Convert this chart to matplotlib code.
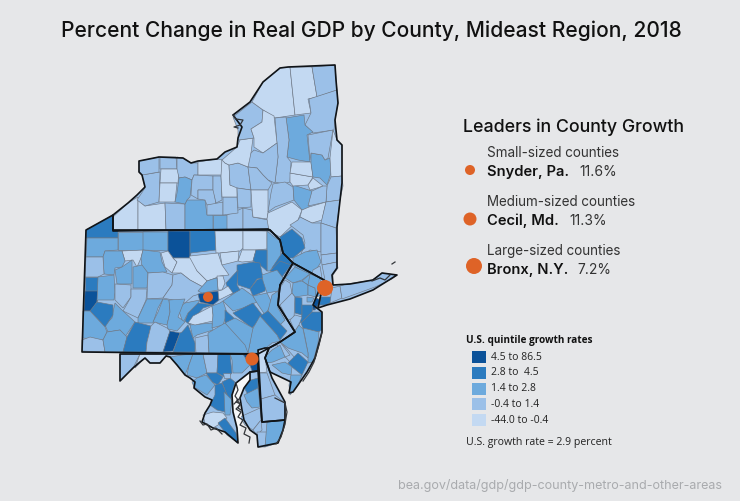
import matplotlib
matplotlib.use('Agg')
from matplotlib import pyplot as plt
from matplotlib.patches import Polygon, Rectangle, Circle

BACKGROUND = '#e6e7e9'
# quintile colours, 0 is the top class
QUINTILE_COLORS = ['#0b5299', '#2b7bbf', '#6daadd', '#9bc0e8', '#c3d9f2']
QUINTILE_LABELS = ['4.5 to 86.5', '2.8 to  4.5', '1.4 to 2.8', '-0.4 to 1.4', '-44.0 to -0.4']
MARKER_COLOR = '#de6327'

LEADER_GROUPS = ['Small-sized counties', 'Medium-sized counties', 'Large-sized counties']
LEADER_NAMES = ['Snyder, Pa.', 'Cecil, Md.', 'Bronx, N.Y.']
LEADER_VALUES = ['11.6%', '11.3%', '7.2%']

# county outlines, in picture pixels: (name, quintile, outline)
NY_COUNTIES = [
    ('Chautauqua', 4, [(113,217),(128,203),(138,197),(138,230),(113,230)]),
    ('Cattaraugus', 4, [(138,200),(145,206),(165,203),(166,230),(138,230)]),
    ('Allegany', 3, [(165,203),(185,204),(185,230),(166,230)]),
    ('Steuben', 2, [(185,204),(187,200),(205,200),(207,215),(213,215),(213,230),(185,230)]),
    ('Chemung', 2, [(213,215),(227,215),(227,230),(213,230)]),
    ('Tioga', 3, [(227,215),(243,208),(243,230),(227,230)]),
    ('Broome', 3, [(243,208),(252,210),(253,217),(268,220),(269,231),(243,230)]),
    ('Erie', 3, [(137,200),(145,188),(142,175),(160,172),(159,202),(145,206)]),
    ('Niagara', 3, [(139,161),(159,157),(159,172),(142,175),(139,172)]),
    ('Orleans', 3, [(160,157),(176,157),(177,169),(160,169)]),
    ('Genesee', 4, [(161,169),(179,169),(178,183),(160,183)]),
    ('Wyoming', 4, [(160,183),(177,183),(175,202),(159,202)]),
    ('Monroe', 3, [(177,157),(183,158),(191,163),(198,163),(198,175),(194,175),(192,180),(185,177),(179,178),(177,169)]),
    ('Livingston', 2, [(179,178),(185,177),(192,180),(190,197),(187,200),(185,204),(175,202),(177,193)]),
    ('Wayne', 4, [(198,162),(217,159),(222,160),(222,175),(198,175)]),
    ('Ontario', 3, [(194,175),(213,176),(213,190),(198,190),(198,199),(191,195),(192,180)]),
    ('Yates', 3, [(198,190),(214,190),(216,205),(207,205),(205,200),(198,199)]),
    ('Seneca', 3, [(213,176),(221,176),(222,200),(216,203),(213,190)]),
    ('Schuyler', 3, [(207,205),(223,202),(223,215),(207,215)]),
    ('Tompkins', 3, [(223,197),(237,197),(238,213),(223,215)]),
    ('Cayuga', 4, [(222,159),(225,163),(229,165),(230,185),(237,187),(237,197),(222,197),(221,176)]),
    ('Onondaga', 3, [(229,165),(238,163),(248,167),(251,190),(237,188),(230,185)]),
    ('Oswego', 4, [(222,160),(237,147),(240,140),(253,138),(251,153),(251,165),(248,167),(238,163),(229,165),(225,163)]),
    ('Jefferson', 3, [(233,117),(252,102),(263,110),(262,122),(251,129),(254,138),(238,140),(238,130)]),
    ('St. Lawrence', 4, [(252,102),(263,82),(280,68),(290,67),(295,115),(275,118),(263,110)]),
    ('Franklin', 4, [(290,67),(312,67),(317,97),(308,99),(311,113),(295,115)]),
    ('Clinton', 3, [(312,67),(335,65),(336,77),(337,90),(317,97)]),
    ('Essex', 3, [(309,99),(337,90),(338,103),(335,120),(334,130),(313,133),(305,125),(311,113)]),
    ('Hamilton', 2, [(286,118),(304,115),(305,125),(313,132),(307,135),(310,162),(298,160),(287,157),(289,140)]),
    ('Herkimer', 3, [(275,118),(286,117),(289,140),(287,157),(291,162),(290,182),(283,184),(275,182),(278,157)]),
    ('Lewis', 4, [(263,110),(274,116),(277,143),(263,153),(254,147),(254,138),(251,129),(262,122)]),
    ('Oneida', 3, [(254,150),(263,153),(277,143),(278,157),(275,183),(268,180),(263,175),(257,168),(248,167),(251,153)]),
    ('Madison', 3, [(248,167),(257,168),(263,175),(268,180),(272,183),(268,190),(251,190)]),
    ('Cortland', 3, [(237,188),(251,190),(251,207),(238,208)]),
    ('Chenango', 4, [(251,190),(268,190),(268,213),(267,219),(253,217),(252,207)]),
    ('Otsego', 3, [(273,184),(285,182),(293,187),(294,200),(275,207),(268,212),(271,193)]),
    ('Delaware', 4, [(268,213),(292,202),(302,210),(298,220),(280,237),(269,231),(267,219)]),
    ('Schoharie', 2, [(293,185),(312,191),(309,208),(302,210),(294,200)]),
    ('Montgomery', 4, [(290,173),(313,177),(308,185),(293,186),(290,182)]),
    ('Fulton', 4, [(292,162),(311,162),(313,177),(290,173)]),
    ('Saratoga', 2, [(311,153),(322,155),(325,160),(330,158),(331,173),(327,185),(320,178),(313,177),(311,163)]),
    ('Warren', 3, [(308,135),(333,130),(328,158),(325,160),(322,155),(311,153),(310,160)]),
    ('Washington', 4, [(333,130),(337,140),(342,145),(342,176),(331,177),(330,158)]),
    ('Rensselaer', 3, [(331,177),(342,176),(343,186),(340,200),(326,202),(327,186)]),
    ('Schenectady', 4, [(308,185),(313,178),(323,186),(317,188),(310,190)]),
    ('Albany', 3, [(312,191),(323,186),(327,186),(326,202),(308,206)]),
    ('Greene', 4, [(309,207),(326,202),(322,220),(312,223),(300,217),(302,210)]),
    ('Columbia', 3, [(326,202),(340,200),(337,223),(336,228),(321,223)]),
    ('Ulster', 3, [(298,220),(300,217),(312,223),(321,223),(321,252),(310,250),(300,257),(305,243),(303,235),(290,225)]),
    ('Sullivan', 1, [(280,237),(292,229),(302,238),(305,248),(293,258),(288,258),(283,253),(280,242)]),
    ('Dutchess', 3, [(321,223),(336,228),(337,253),(321,255)]),
    ('Orange', 2, [(293,258),(305,252),(317,250),(321,262),(311,278),(293,265)]),
    ('Putnam', 3, [(321,255),(337,253),(337,262),(322,265)]),
    ('Westchester', 3, [(322,265),(337,262),(338,268),(333,275),(333,285),(325,280)]),
    ('Rockland', 3, [(313,270),(320,266),(322,278),(311,278)]),
    ('Kings', 1, [(320,297),(332,297),(330,303),(325,305),(318,305)]),
    ('Richmond', 0, [(312,310),(317,300),(320,303),(315,310)]),
    ('Nassau', 3, [(332,288),(340,286),(342,298),(330,303)]),
    ('Suffolk', 3, [(340,286),(347,284),(372,280),(382,273),(397,275),(392,279),(375,287),(342,299)]),
]

PA_COUNTIES = [
    ('Erie', 1, [(86,230),(113,215),(113,230),(118,230),(118,238),(86,238)]),
    ('Crawford', 2, [(87,238),(118,238),(118,250),(105,251),(103,257),(86,257)]),
    ('Warren', 2, [(118,232),(143,232),(143,250),(118,250)]),
    ('McKean', 2, [(143,232),(168,232),(168,251),(143,250)]),
    ('Potter', 0, [(168,231),(190,231),(190,258),(173,258),(168,251)]),
    ('Tioga', 1, [(190,230),(215,230),(216,250),(191,253),(190,258)]),
    ('Bradford', 4, [(215,231),(243,231),(243,248),(240,251),(220,253),(216,253)]),
    ('Susquehanna', 4, [(243,231),(267,231),(267,249),(255,250),(243,250)]),
    ('Wayne', 2, [(267,231),(273,236),(280,241),(281,256),(270,271),(267,271),(267,250)]),
    ('Pike', 1, [(280,238),(283,253),(293,263),(283,270),(272,268),(282,253)]),
    ('Wyoming', 4, [(238,261),(242,250),(256,250),(253,261),(242,262)]),
    ('Lackawanna', 1, [(256,250),(267,250),(267,271),(260,265),(253,261)]),
    ('Luzerne', 1, [(237,265),(253,262),(260,263),(263,278),(257,279),(250,289),(238,285),(237,276)]),
    ('Monroe', 1, [(270,271),(280,261),(291,265),(282,277),(276,273)]),
    ('Carbon', 1, [(250,289),(257,280),(262,278),(266,285),(265,291),(253,296)]),
    ('Schuylkill', 2, [(223,301),(242,288),(253,296),(257,302),(243,308),(233,311)]),
    ('Columbia', 1, [(226,283),(238,270),(237,285),(240,290),(230,295)]),
    ('Sullivan', 4, [(220,253),(239,251),(238,261),(222,265)]),
    ('Lycoming', 4, [(190,256),(218,253),(222,265),(229,275),(220,276),(213,279),(207,281),(197,271),(188,260)]),
    ('Clinton', 4, [(161,253),(168,251),(173,258),(177,262),(172,273),(165,267)]),
    ('Clinton East', 4, [(173,258),(190,258),(197,271),(207,281),(203,287),(190,280),(181,273),(172,273),(177,262)]),
    ('Forest', 4, [(122,251),(143,250),(141,258),(137,267),(133,260),(125,261)]),
    ('Elk', 2, [(143,250),(160,252),(162,262),(167,272),(148,273),(142,267),(141,258)]),
    ('Venango', 2, [(105,251),(122,251),(125,261),(122,267),(115,268),(114,275),(104,274),(103,257)]),
    ('Mercer', 3, [(86,257),(103,257),(104,274),(98,277),(85,277)]),
    ('Lawrence', 1, [(85,277),(98,277),(98,291),(85,291)]),
    ('Beaver', 0, [(85,291),(98,291),(97,302),(91,311),(84,311)]),
    ('Butler', 2, [(98,277),(114,275),(115,292),(114,300),(98,300),(97,302)]),
    ('Clarion', 2, [(115,270),(122,267),(132,260),(132,284),(117,284)]),
    ('Jefferson', 2, [(133,267),(142,265),(148,273),(147,288),(133,288)]),
    ('Armstrong', 3, [(115,284),(131,285),(131,297),(123,308),(115,300)]),
    ('Indiana', 3, [(131,289),(147,289),(146,300),(138,318),(123,311),(131,297)]),
    ('Clearfield', 3, [(148,273),(163,272),(173,275),(172,285),(163,298),(147,299)]),
    ('Centre', 3, [(173,275),(181,273),(190,280),(203,287),(203,293),(193,296),(185,303),(173,300),(163,298),(172,285)]),
    ('Montour', 4, [(217,276),(223,276),(225,283),(222,290),(218,290)]),
    ('Northumberland', 2, [(207,281),(213,279),(217,278),(218,290),(202,293),(198,291)]),
    ('Snyder', 0, [(198,294),(218,291),(219,300),(213,305),(200,302)]),
    ('Dauphin North', 4, [(219,300),(233,293),(228,286),(222,290),(218,291)]),
    ('Juniata', 1, [(185,321),(188,313),(198,303),(213,305),(203,308),(195,318),(190,325)]),
    ('Mifflin', 2, [(178,308),(185,303),(200,300),(198,303),(188,313),(183,323)]),
    ('Cambria', 2, [(147,299),(163,299),(158,308),(153,323),(138,323),(138,318)]),
    ('Blair', 2, [(163,299),(169,300),(170,312),(167,325),(153,322),(158,312)]),
    ('Huntingdon', 2, [(169,300),(185,299),(178,317),(185,322),(177,331),(168,329),(167,325),(170,312)]),
    ('Westmoreland', 2, [(115,303),(122,310),(135,322),(125,337),(120,330),(108,332),(105,325),(112,318),(113,312)]),
    ('Allegheny', 1, [(90,311),(97,302),(113,305),(113,315),(105,327)]),
    ('Washington', 2, [(83,311),(90,311),(105,327),(107,332),(103,340),(83,338)]),
    ('Greene', 3, [(82,340),(90,337),(103,340),(105,352),(82,351)]),
    ('Fayette', 2, [(107,332),(120,330),(127,337),(123,352),(105,352),(103,340)]),
    ('Somerset', 1, [(135,322),(151,326),(147,342),(146,352),(123,352),(127,337)]),
    ('Bedford', 3, [(151,326),(155,322),(167,328),(170,331),(163,352),(146,352),(147,342)]),
    ('Fulton', 0, [(170,331),(180,333),(173,351),(163,352)]),
    ('Franklin', 1, [(188,325),(195,343),(195,352),(173,352),(180,333),(182,332)]),
    ('Cumberland', 2, [(190,325),(212,323),(213,330),(197,335),(193,338)]),
    ('Perry', 4, [(188,323),(193,316),(212,306),(213,315),(213,321),(195,325)]),
    ('Dauphin', 2, [(212,306),(220,303),(223,301),(227,313),(223,325),(212,328),(213,315)]),
    ('Lebanon', 1, [(225,310),(235,319),(228,326),(225,325)]),
    ('Berks', 1, [(233,313),(253,303),(263,316),(252,328),(235,315)]),
    ('Northampton', 2, [(262,275),(277,270),(283,278),(278,291),(267,293),(263,281)]),
    ('Lehigh', 2, [(253,296),(267,293),(272,303),(265,315),(257,303)]),
    ('Bucks', 2, [(272,295),(278,291),(278,308),(285,320),(280,325),(268,311)]),
    ('Montgomery', 1, [(260,316),(268,311),(287,331),(280,340),(277,335)]),
    ('Chester', 2, [(252,330),(260,316),(277,335),(280,341),(272,343),(260,353),(248,353)]),
    ('Adams', 3, [(195,338),(208,335),(209,353),(196,353)]),
    ('York', 2, [(208,333),(225,323),(250,343),(247,353),(209,353)]),
    ('Lancaster', 2, [(225,323),(235,318),(253,328),(248,353),(245,345)]),
]

NJ_COUNTIES = [
    ('Sussex', 2, [(295,267),(310,274),(302,280),(293,283),(285,278)]),
    ('Warren', 3, [(285,280),(290,283),(292,293),(283,305),(278,305),(280,288)]),
    ('Passaic', 2, [(310,274),(317,280),(308,285),(302,281)]),
    ('Morris', 2, [(293,283),(302,281),(308,285),(308,295),(295,297),(292,293)]),
    ('Hunterdon', 3, [(280,305),(283,302),(292,293),(295,297),(294,318),(288,320)]),
    ('Somerset', 1, [(295,297),(302,298),(302,315),(295,313)]),
    ('Essex', 2, [(308,285),(315,288),(316,297),(308,295)]),
    ('Bergen', 2, [(310,274),(320,278),(322,295),(316,297),(315,288),(308,285)]),
    ('Union', 2, [(307,297),(314,298),(312,302),(307,302)]),
    ('Hudson', 0, [(316,298),(321,300),(315,309),(311,309)]),
    ('Middlesex', 1, [(302,305),(313,305),(312,312),(302,322),(298,323),(302,315)]),
    ('Monmouth', 1, [(312,312),(322,312),(322,330),(318,332),(303,328),(301,323)]),
    ('Mercer', 3, [(290,320),(295,315),(302,317),(299,325),(295,331)]),
    ('Ocean', 2, [(303,328),(319,332),(318,343),(313,362),(308,363),(308,353),(305,337)]),
    ('Burlington', 2, [(295,331),(299,325),(303,329),(308,353),(308,358),(302,353),(288,348),(280,342)]),
    ('Camden', 3, [(280,342),(288,350),(295,358),(290,362),(277,348)]),
    ('Gloucester', 3, [(269,348),(280,342),(290,355),(285,357),(277,345)]),
    ('Salem', 2, [(265,357),(272,350),(280,345),(285,357),(273,362),(267,363)]),
    ('Atlantic', 1, [(288,363),(298,353),(308,362),(302,375),(292,367)]),
    ('Cumberland', 2, [(272,365),(285,362),(292,367),(291,375),(282,373)]),
    ('Cape May', 2, [(291,375),(302,375),(298,385),(290,395),(289,385)]),
]

DE_COUNTIES = [
    ('New Castle', 4, [(258,350),(265,348),(269,350),(265,357),(267,372),(259,373)]),
    ('Kent', 3, [(259,373),(267,373),(275,395),(261,399)]),
    ('Sussex', 3, [(261,399),(275,395),(285,403),(285,420),(262,422)]),
]

MD_WEST_COUNTIES = [
    ('Garrett', 3, [(120,354),(140,354),(133,368),(120,381)]),
    ('Allegany', 4, [(140,354),(168,354),(160,363),(150,363),(145,358),(135,368)]),
    ('Washington', 2, [(170,357),(182,355),(193,354),(189,365),(185,375),(177,365)]),
    ('Frederick', 2, [(193,354),(203,354),(207,373),(197,378),(187,375),(189,365)]),
    ('Carroll', 3, [(203,354),(218,354),(217,373),(207,373)]),
    ('Baltimore', 1, [(218,354),(230,354),(232,373),(227,378),(217,373)]),
    ('Harford', 2, [(230,354),(243,354),(250,365),(242,373),(233,373),(232,360)]),
    ('Cecil', 0, [(243,354),(258,354),(258,371),(252,371),(250,365)]),
    ('Howard', 1, [(206,373),(217,373),(223,377),(218,385),(212,382)]),
    ('Montgomery', 2, [(197,378),(206,375),(215,385),(207,395),(194,387),(192,382)]),
    ('Anne Arundel', 1, [(222,382),(230,378),(235,382),(230,402),(225,390)]),
    ("Prince George's", 1, [(215,385),(222,383),(225,390),(230,402),(225,412),(217,410),(210,405),(215,395)]),
    ('Baltimore City', 3, [(223,373),(230,373),(230,378),(224,378)]),
    ('Calvert', 2, [(224,392),(232,400),(230,415),(225,415)]),
    ('Charles', 4, [(203,415),(213,412),(223,413),(227,418),(218,425),(213,428),(205,423)]),
    ("St. Mary's", 1, [(218,423),(225,418),(236,433),(238,443),(227,435)]),
]

MD_EAST_COUNTIES = [
    ('Kent', 1, [(251,380),(258,378),(258,390),(248,395),(244,387)]),
    ("Queen Anne's", 2, [(244,395),(258,388),(260,407),(252,408),(247,402)]),
    ('Dorchester', 3, [(240,417),(260,408),(261,420),(253,430),(245,425)]),
    ('Wicomico', 3, [(261,420),(262,430),(257,435),(253,430)]),
    ('Somerset', 3, [(257,432),(267,432),(265,447),(258,447)]),
    ('Worcester', 2, [(267,422),(285,420),(285,425),(278,443),(265,447)]),
]

# state borders, drawn in black over the counties
NY_OUTLINE = [(113,231),(113,215),(128,203),(137,195),(145,187),(142,175),(139,172),(139,161),(159,157),
              (183,158),(191,163),(198,161),(217,159),(225,152),(237,147),(238,138),(242,127),(233,115),
              (250,102),(263,82),(280,68),(288,67),(335,65),(336,80),(338,103),(335,120),(337,140),(342,145),
              (342,183),(337,227),(337,268),(332,275),(333,285),(350,284),(373,280),(382,273),(397,275),
              (373,290),(350,299),(327,305),(318,308),(324,280),(293,263),(283,253),(280,240),(270,230),(268,229)]
PA_OUTLINE = [(113,215),(86,230),(82,352),(258,354),(269,348),(280,342),(295,332),(278,305),(280,285),(293,263),
              (283,253),(280,240),(270,230),(113,230)]
NJ_OUTLINE = [(293,263),(324,280),(320,288),(313,305),(322,312),(322,332),(315,358),(307,372),(293,392),
              (289,393),(291,382),(270,372),(265,358),(269,348),(280,342),(295,332),(278,305),(280,285)]
DE_OUTLINE = [(258,350),(265,348),(269,348),(265,358),(272,378),(285,402),(285,420),(262,422)]
MD_WEST_OUTLINE = [(120,354),(258,354),(258,371),(250,372),(236,383),(232,395),(233,412),(237,428),(238,443),
                   (225,432),(213,428),(202,422),(205,413),(210,405),(212,400),(205,397),(194,388),(195,382),
                   (190,378),(185,375),(177,365),(170,357),(166,356),(160,363),(150,363),(145,358),(140,362),
                   (133,368),(120,381)]
MD_EAST_OUTLINE = [(250,372),(258,371),(262,422),(285,420),(283,430),(278,443),(258,447),(257,435),(250,430),
                   (244,420),(242,410),(240,398),(244,388),(250,380)]
BAY_SHAPE = [(250,373),(236,384),(233,395),(234,412),(238,428),(239,442),(241,425),(241,415),(238,405),
             (241,397),(244,388),(249,380)]

# rough shoreline scraps: bay islands, Long Island and the Jersey shore
COAST_SCRAPS = [
    [(240,398),(236,402),(241,404),(236,409),(241,412),(238,417),(243,420),(240,425),(246,428),(244,434),(250,437),(249,443)],
    [(236,383),(238,390),(235,396),(238,400),(234,404)],
    [(237,400),(240,404),(238,408),(241,410)],
    [(200,421),(203,425),(207,424),(211,430),(216,428),(222,434)],
    [(322,332),(319,345),(314,362),(309,372),(303,381)],
    [(275,398),(285,403),(287,412),(285,424),(281,437),(276,444)],
    [(233,115),(236,119),(243,120),(240,125),(234,127),(238,128)],
    [(372,281),(380,278),(385,280),(390,275)],
    [(392,264),(395,262)],
]


def add_counties(ax, counties, outline):
    ax.add_patch(Polygon(outline, closed=True, facecolor=QUINTILE_COLORS[3], edgecolor='none', zorder=1))
    for name, quintile, verts in counties:
        ax.add_patch(Polygon(verts, closed=True, facecolor=QUINTILE_COLORS[quintile],
                             edgecolor='#6f7885', linewidth=0.45, zorder=2))


def main():
    plt.rcParams['font.family'] = ['Inter', 'DejaVu Sans']
    fig = plt.figure(figsize=(7.4, 5.01), dpi=100, facecolor=BACKGROUND)
    ax = fig.add_axes([0, 0, 1, 1])
    ax.set_xlim(0, 740)
    ax.set_ylim(501, 0)
    ax.axis('off')

    add_counties(ax, PA_COUNTIES, PA_OUTLINE)
    add_counties(ax, NY_COUNTIES, NY_OUTLINE)
    add_counties(ax, NJ_COUNTIES, NJ_OUTLINE)
    add_counties(ax, DE_COUNTIES, DE_OUTLINE)
    add_counties(ax, MD_WEST_COUNTIES, MD_WEST_OUTLINE)
    add_counties(ax, MD_EAST_COUNTIES, MD_EAST_OUTLINE)

    # the upper bay shows up nearly white
    ax.add_patch(Polygon(BAY_SHAPE, closed=True, facecolor='#f7f8f9', edgecolor='none', zorder=2.5))

    for outline in [NY_OUTLINE, PA_OUTLINE, NJ_OUTLINE, DE_OUTLINE, MD_WEST_OUTLINE, MD_EAST_OUTLINE]:
        ax.add_patch(Polygon(outline, closed=True, fill=False, edgecolor='#101418',
                             linewidth=1.2, joinstyle='round', zorder=3))
    for scrap in COAST_SCRAPS:
        xs, ys = zip(*scrap)
        ax.plot(xs, ys, color='#33363a', linewidth=0.9, zorder=3)

    # markers on the map
    for x, y, r in [(208, 297, 5), (252, 359, 6.5), (325, 288, 8)]:
        ax.add_patch(Circle((x, y), r, facecolor=MARKER_COLOR, edgecolor='none', zorder=4))

    ax.text(371, 37, 'Percent Change in Real GDP by County, Mideast Region, 2018',
            ha='center', va='baseline', fontsize=15.1, fontweight='medium', color='#111111')
    ax.text(463, 132, 'Leaders in County Growth', ha='left', va='baseline',
            fontsize=12.8, fontweight='medium', color='#111111')

    rows = [(157, 176, 579, 470, 170, 5), (206, 225, 569, 470, 219, 6.5), (255, 274, 577, 474, 266, 8)]
    for i, (y1, y2, xval, mx, my, r) in enumerate(rows):
        ax.text(487, y1, LEADER_GROUPS[i], ha='left', va='baseline', fontsize=9.7, color='#333333')
        ax.text(487, y2, LEADER_NAMES[i], ha='left', va='baseline', fontsize=10.6,
                fontweight='semibold', color='#111111')
        ax.text(xval, y2, LEADER_VALUES[i], ha='left', va='baseline', fontsize=10, color='#333333')
        ax.add_patch(Circle((mx, my), r, facecolor=MARKER_COLOR, edgecolor='none', zorder=4))

    ax.text(466, 343, 'U.S. quintile growth rates', ha='left', va='baseline',
            fontsize=7.2, fontweight='bold', family=['Open Sans', 'DejaVu Sans'], color='#111111')
    for i, label in enumerate(QUINTILE_LABELS):
        y0 = 351 + i * 15.8
        ax.add_patch(Rectangle((472, y0), 14, 12, facecolor=QUINTILE_COLORS[i], edgecolor='none'))
        ax.text(491, y0 + 6, label, ha='left', va='center', fontsize=7.5,
                family=['Open Sans', 'DejaVu Sans'], color='#222222')
    ax.text(466, 445, 'U.S. growth rate = 2.9 percent', ha='left', va='baseline', fontsize=7.6,
            family=['Open Sans', 'DejaVu Sans'], color='#222222')

    ax.text(722, 489, 'bea.gov/data/gdp/gdp-county-metro-and-other-areas', ha='right', va='baseline',
            fontsize=9.05, color='#a9abae')

    fig.savefig('out.png', dpi=100, facecolor=BACKGROUND)


if __name__ == '__main__':
    main()
